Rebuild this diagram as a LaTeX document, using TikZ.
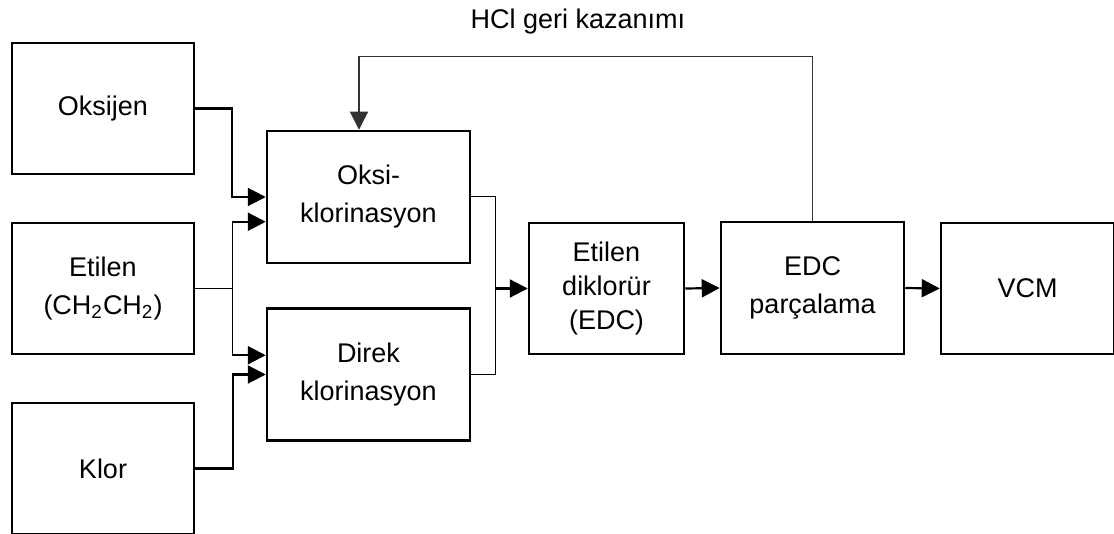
\documentclass[tikz,border=0pt]{standalone}
\usepackage{fontspec}
\setmainfont{Liberation Sans}
\usepackage{tikz}
\usetikzlibrary{calc, positioning, arrows.meta}
\tikzset{
    unit/.style={rectangle, draw=black, line width=1.25pt, fill=white, align=center, inner sep=0pt, font=\fontsize{13.5}{19}\selectfont},
    feed/.style={unit, minimum width=91pt, minimum height=65.5pt},
    reactor/.style={unit, minimum width=101.5pt, minimum height=66pt},
    arrow/.style={-{Triangle[length=9pt, width=9pt]}, line width=1.1pt},
    pipe/.style={line width=0.5pt},
    recycle/.style={-{Triangle[length=9pt, width=9pt]}, line width=0.75pt, draw=black!80},
    label/.style={font=\fontsize{13.5}{16}\selectfont, align=center}
}

\begin{document}
\begin{tikzpicture}[x=0.5pt, y=-0.5pt]
        \useasboundingbox (0,0) rectangle (1114,534);

        % Feeds
        \node[feed] (oksijen) at (103,108.5) {Oksijen};
        \node[feed] (etilen) at (103,288.5) {Etilen\\(CH\textsubscript{2}CH\textsubscript{2})};
        \node[feed] (klor) at (103,468.5) {Klor};

        % Chlorination steps
        \node[reactor] (oksi) at (368.5,197) {Oksi-\\klorinasyon};
        \node[reactor] (direk) at (368.5,374.5) {Direk\\klorinasyon};

        % Downstream units
        \node[unit, minimum width=77.5pt, minimum height=65.5pt, font=\fontsize{13.5}{16.8}\selectfont] (edc) at (606.5,288.5) {Etilen\\diklor\"ur\\(EDC)};
        \node[unit, minimum width=91.5pt, minimum height=66pt] (parcalama) at (812.5,288) {EDC\\par\c{c}alama};
        \node[unit, minimum width=86.5pt, minimum height=65.5pt] (vcm) at (1027.5,288.5) {VCM};

        % Feed lines
        \draw[arrow] (oksijen.east) -- ++(37,0) |- (oksi.west);
        \draw[arrow] (klor.east) -- ++(38,0) |- (direk.west);
        \draw[pipe] (etilen.east) -- ++(37,0) coordinate (jE);
        \draw[pipe] (jE |- etilen.north) -- (jE |- etilen.south);
        \draw[arrow] (jE |- etilen.north) -- (oksi.west |- etilen.north);
        \draw[arrow] (jE |- etilen.south) -- (direk.west |- etilen.south);

        % Product lines
        \draw[pipe] (oksi.east) -- ++(24,0) coordinate (jR) |- (direk.east);
        \draw[arrow] (jR |- edc.west) -- (edc.west);
        \draw[arrow] (edc.east) -- (parcalama.west);
        \draw[arrow] (parcalama.east) -- (vcm.west);

        % HCl recycle
        \draw[recycle] (parcalama.north) -- ++(0,-164) coordinate (top) -| ($(oksi.north)+(-9.5,0)$);
        \node[label] (hcl) at (578,22) {HCl geri kazan\i m\i};
    \end{tikzpicture}
\end{document}
